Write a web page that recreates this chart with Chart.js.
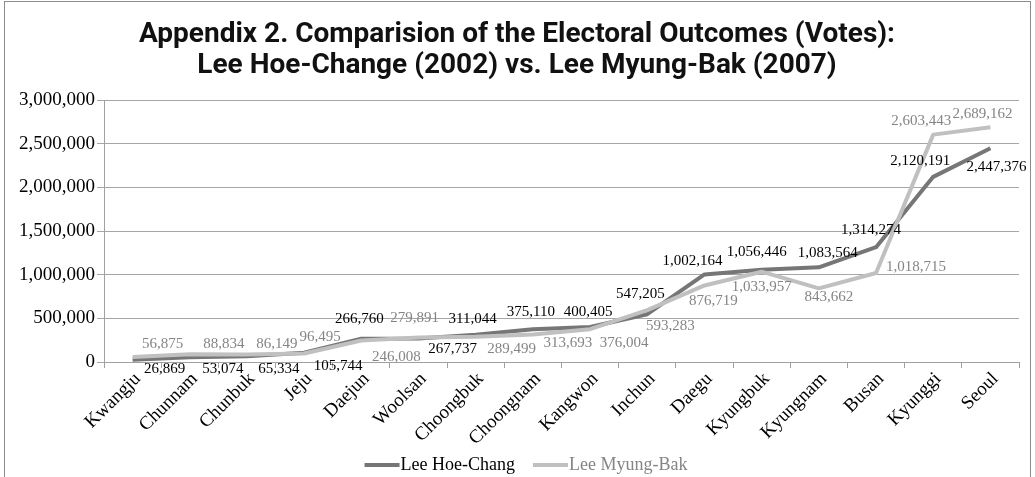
<!DOCTYPE html>
<html>
<head>
<meta charset="utf-8">
<script src="https://cdn.jsdelivr.net/npm/chart.js@4.4.1/dist/chart.umd.min.js"></script>
<style>
    html, body { margin: 0; padding: 0; background: #fff; }
    .chart_box { position: relative; width: 1035px; height: 477px; }
    .chart_box .frame { position: absolute; left: 4px; top: 1px; width: 1027px; height: 500px; border: 1px solid #8c8c8c; box-sizing: border-box; pointer-events: none; }
</style>
</head>
<body>
<div class="chart_box">
    <canvas id="chart"></canvas>
    <div class="frame"></div>
</div>
<script>
const regionList = ['Kwangju', 'Chunnam', 'Chunbuk', 'Jeju', 'Daejun', 'Woolsan', 'Choongbuk', 'Choongnam',
    'Kangwon', 'Inchun', 'Daegu', 'Kyungbuk', 'Kyungnam', 'Busan', 'Kyunggi', 'Seoul'];
const hoeChangVotes = [26869, 53074, 65334, 105744, 266760, 267737, 311044, 375110,
    400405, 547205, 1002164, 1056446, 1083564, 1314274, 2120191, 2447376];
const myungBakVotes = [56875, 88834, 86149, 96495, 246008, 279891, 289499, 313693,
    376004, 593283, 876719, 1033957, 843662, 1018715, 2603443, 2689162];
const titleLines = ['Appendix 2. Comparision of the Electoral Outcomes (Votes):',
    'Lee Hoe-Change (2002) vs. Lee Myung-Bak (2007)'];

// where each value label sits relative to its point (dx, dy in px)
const hoeLabelShift = [[32, 9], [33, 12], [32, 13], [34, 13], [-2, -20], [34, 10], [-3, -16], [-2, -17],
    [-2, -15], [-7, -20], [-12, -13], [-5, -18], [9, -14], [-5, -17], [-13, -16], [6, 19]];
const myungLabelShift = [[30, -13], [34, -10], [30, -10], [16, -17], [35, 17], [-4, -19], [36, 12], [35, 8],
    [34, 14], [23, 16], [9, 16], [0, 15], [10, 9], [40, -6], [-12, -14], [-8, -13]];

const serif = '"Liberation Serif", "Times New Roman", serif';
const chartElement = document.getElementById('chart');

const chartTitle = {
    id: 'chartTitle',
    afterDraw(chart) {
        const ctx = chart.ctx;
        ctx.save();
        ctx.font = 'bold 28px Roboto, "Noto Sans", sans-serif';
        ctx.fillStyle = '#111';
        ctx.textAlign = 'center';
        ctx.textBaseline = 'alphabetic';
        ctx.fillText(titleLines[0], 517, 42);
        ctx.fillText(titleLines[1], 517, 73);
        ctx.restore();
    }
};

const pointLabels = {
    id: 'pointLabels',
    afterDatasetsDraw(chart) {
        const ctx = chart.ctx;
        ctx.save();
        ctx.font = '15px ' + serif;
        ctx.textAlign = 'center';
        ctx.textBaseline = 'middle';
        chart.data.datasets.forEach((dataset, datasetIndex) => {
            chart.getDatasetMeta(datasetIndex).data.forEach((point, i) => {
                const shift = dataset.labelShift[i];
                ctx.fillStyle = dataset.labelColor;
                ctx.fillText(dataset.data[i].toLocaleString('en-US'), point.x + shift[0], point.y + shift[1]);
            });
        });
        ctx.restore();
    }
};

// legend drawn by hand so the swatch sits right against the text
const bottomLegend = {
    id: 'bottomLegend',
    afterDraw(chart) {
        const ctx = chart.ctx;
        const swatch = 35;
        const gap = 18;
        const y = 465;
        ctx.save();
        ctx.font = '18px ' + serif;
        ctx.textBaseline = 'middle';
        const items = chart.data.datasets.map(ds => ({ ds: ds, w: swatch + 1 + ctx.measureText(ds.label).width }));
        const total = items.reduce((s, it) => s + it.w, 0) + gap * (items.length - 1);
        let x = 526 - total / 2;
        items.forEach(it => {
            ctx.fillStyle = it.ds.borderColor;
            ctx.fillRect(x, y - 2, swatch, 4);
            ctx.fillStyle = it.ds.labelColor;
            ctx.fillText(it.ds.label, x + swatch + 1, y);
            x += it.w + gap;
        });
        ctx.restore();
    }
};

const chart = new Chart(chartElement, {
    type: 'line',
    data: {
        labels: regionList,
        datasets: [{
            label: 'Lee Hoe-Chang',
            data: hoeChangVotes,
            borderColor: 'rgb(118, 118, 118)',
            labelColor: '#000',
            labelShift: hoeLabelShift,
            order: 1
        }, {
            label: 'Lee Myung-Bak',
            data: myungBakVotes,
            borderColor: 'rgb(192, 192, 192)',
            labelColor: '#858585',
            labelShift: myungLabelShift,
            order: 0
        }]
    },
    options: {
        responsive: true,
        maintainAspectRatio: false,
        animation: false,
        elements: {
            line: { borderWidth: 4, tension: 0, fill: false, borderJoinStyle: 'round' },
            point: { radius: 0, hoverRadius: 0 }
        },
        layout: { padding: { top: 100, left: 0, right: 16, bottom: 25 } },
        plugins: {
            legend: { display: false },
            tooltip: { enabled: false },
            title: { display: false }
        },
        scales: {
            x: {
                offset: true,
                grid: { offset: true, drawOnChartArea: false, tickLength: 6, color: '#a0a0a0' },
                border: { color: '#a0a0a0' },
                ticks: {
                    autoSkip: false,
                    minRotation: 45,
                    maxRotation: 45,
                    labelOffset: 5,
                    padding: 0,
                    color: '#000',
                    font: { family: serif, size: 19 }
                },
                afterFit: scale => { scale.height = 90; }
            },
            y: {
                min: 0,
                max: 3000000,
                grid: { color: '#a6a6a6', tickLength: 7 },
                border: { color: '#a0a0a0' },
                ticks: {
                    stepSize: 500000,
                    padding: 2,
                    color: '#000',
                    font: { family: serif, size: 19 },
                    callback: value => value.toLocaleString('en-US')
                },
                afterFit: scale => { scale.width = 104; }
            }
        }
    },
    plugins: [chartTitle, pointLabels, bottomLegend]
});
</script>
</body>
</html>
